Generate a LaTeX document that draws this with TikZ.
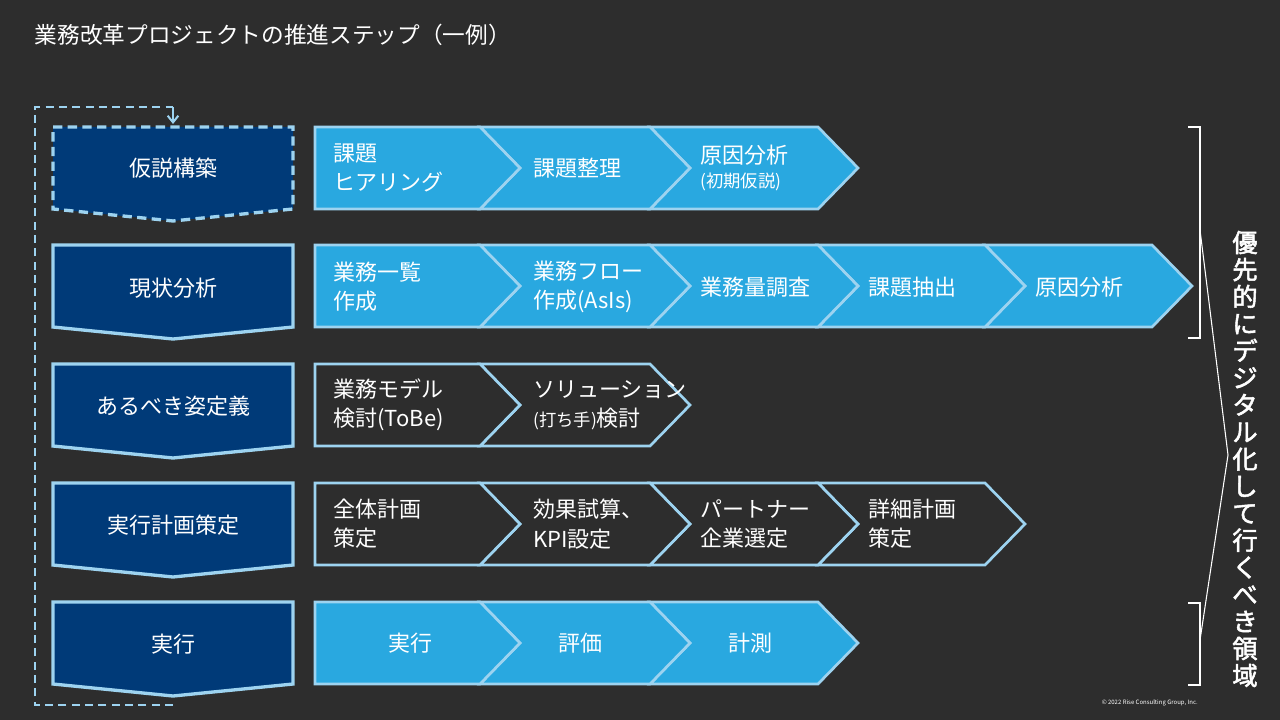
\documentclass[tikz,border=0pt]{standalone}
\usepackage{fontspec}
\usetikzlibrary{arrows.meta}
\setmainfont{Noto Sans CJK JP}
\newfontfamily\jpb{Noto Sans CJK JP}[FakeBold=2]
\definecolor{bg}{HTML}{2D2D2D}
\definecolor{navy}{HTML}{003A78}
\definecolor{sky}{HTML}{29A8E0}
\definecolor{edge}{HTML}{9DD3F0}
\newcommand{\segfirst}[4]{\draw[#1] (#2,#4) -- (#3,#4) -- ({#3+40},{#4+41}) -- (#3,{#4+82}) -- (#2,{#4+82}) -- cycle;}
\newcommand{\segnext}[4]{\draw[#1] (#2,#4) -- (#3,#4) -- ({#3+40},{#4+41}) -- (#3,{#4+82}) -- (#2,{#4+82}) -- ({#2+40},{#4+41}) -- cycle;}
\newcommand{\leftchev}[2]{\draw[#1] (53,#2) -- (293,#2) -- (293,{#2+82}) -- (173,{#2+94}) -- (53,{#2+82}) -- cycle;}
\tikzset{
 lite/.style={fill=sky,draw=edge,line width=2pt,line join=miter},
 darkseg/.style={fill=bg,draw=edge,line width=2pt,line join=miter},
 navyc/.style={fill=navy,draw=edge,line width=2.5pt,line join=miter},
 lbl/.style={text=white,font=\fontsize{16.5}{22}\selectfont,align=left,anchor=west,inner sep=0},
 clbl/.style={text=white,font=\fontsize{16.5}{22}\selectfont,align=center,inner sep=0},
}
\newcommand{\smf}{\fontsize{13}{22}\selectfont}
\begin{document}
\begin{tikzpicture}[x=0.75pt,y=-0.75pt]
\fill[bg] (0,0) rectangle (1280,720);
\useasboundingbox (0,0) rectangle (1280,720);
\node[text=white,font=\fontsize{17}{20}\selectfont,anchor=west] (title) at (30,35) {業務改革プロジェクトの推進ステップ（一例）};
% left chevrons
\draw[fill=navy,draw=edge,line width=2.5pt,dash pattern=on 7pt off 4pt] (53,127) -- (293,127) -- (293,209) -- (173,221) -- (53,209) -- cycle;
\leftchev{navyc}{245}
\leftchev{navyc}{364}
\leftchev{navyc}{483}
\leftchev{navyc}{602}
\node[clbl] (l1) at (173,168) {仮説構築};
\node[clbl] (l2) at (173,288) {現状分析};
\node[clbl] (l3) at (173,406) {あるべき姿定義};
\node[clbl] (l4) at (173,525) {実行計画策定};
\node[clbl] (l5) at (173,644) {実行};
% dashed loop
\coordinate (d0) at (173,705);
\coordinate (d1) at (35,705);
\coordinate (d2) at (35,107);
\coordinate (d3) at (173,107);
\coordinate (d4) at (173,124);
\draw[edge,line width=1.5pt,dash pattern=on 6pt off 4pt] (d0) -- (d1) -- (d2) -- (d3);
\draw[edge,line width=1.5pt,-{Straight Barb[length=5pt,width=8pt]}] (d3) -- (d4);
% row 1
\segnext{lite}{650}{818}{127}
\segnext{lite}{480}{650}{127}
\segfirst{lite}{315}{480}{127}
\node[lbl] (a1) at (333,168) {課題\\ヒアリング};
\node[lbl] (a2) at (533,168) {課題整理};
\node[lbl] (a3) at (700,168) {原因分析\\[-4pt]{\smf (初期仮説)}};
% row 2
\segnext{lite}{985}{1152}{245}
\segnext{lite}{818}{985}{245}
\segnext{lite}{650}{818}{245}
\segnext{lite}{480}{650}{245}
\segfirst{lite}{315}{480}{245}
\node[lbl] (b1) at (333,287) {業務一覧\\作成};
\node[lbl] (b2) at (533,287) {業務フロー\\作成(AsIs)};
\node[lbl] (b3) at (700,287) {業務量調査};
\node[lbl] (b4) at (868,287) {課題抽出};
\node[lbl] (b5) at (1035,287) {原因分析};
% row 3
\segnext{darkseg}{480}{650}{364}
\segfirst{darkseg}{315}{480}{364}
\node[lbl] (c1) at (333,405) {業務モデル\\検討(ToBe)};
\node[lbl] (c2) at (533,405) {ソリューション\\{\smf (打ち手)}検討};
% row 4
\segnext{darkseg}{818}{985}{483}
\segnext{darkseg}{650}{818}{483}
\segnext{darkseg}{480}{650}{483}
\segfirst{darkseg}{315}{480}{483}
\node[lbl] (e1) at (333,524) {全体計画\\策定};
\node[lbl] (e2) at (533,524) {効果試算、\\KPI設定};
\node[lbl] (e3) at (700,524) {パートナー\\企業選定};
\node[lbl] (e4) at (868,524) {詳細計画\\策定};
% row 5
\segnext{lite}{650}{818}{602}
\segnext{lite}{480}{650}{602}
\segfirst{lite}{315}{480}{602}
\node[clbl] (f1) at (410,643) {実行};
\node[clbl] (f2) at (580,643) {評価};
\node[clbl] (f3) at (750,643) {計測};
% brackets
\coordinate (k1) at (1188,127);
\coordinate (k2) at (1200,127);
\coordinate (k3) at (1200,338);
\coordinate (k4) at (1188,338);
\coordinate (k5) at (1188,603);
\coordinate (k6) at (1200,603);
\coordinate (k7) at (1200,685);
\coordinate (k8) at (1188,685);
\coordinate (p0) at (1200,230);
\coordinate (p1) at (1228,455);
\coordinate (p2) at (1200,640);
\draw[white,line width=0.8pt] (k1) -- (k2) -- (k3) -- (k4);
\draw[white,line width=0.8pt] (k5) -- (k6) -- (k7) -- (k8);
\draw[white,line width=0.8pt] (p0) -- (p1) -- (p2);
\node[text=white,font=\jpb\fontsize{19}{20.3}\selectfont,align=center,inner sep=0] (vt) at (1245,459) {優\\先\\的\\に\\デ\\ジ\\タ\\ル\\化\\し\\て\\行\\く\\べ\\き\\領\\域};
\node[text=white,font=\fontsize{4.5}{5}\selectfont,anchor=east,inner sep=0] (copy) at (1198,703) {© 2022 Rise Consulting Group, Inc.};
\end{tikzpicture}
\end{document}
